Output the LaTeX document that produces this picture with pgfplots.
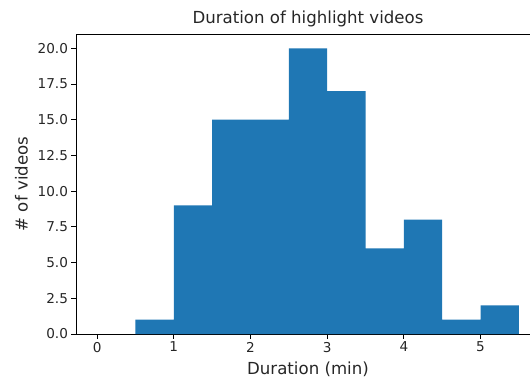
\documentclass[border=0pt]{standalone}
\usepackage{pgfplots}
\pgfplotsset{compat=1.18}
\usepackage{fontspec}
\setmainfont{DejaVu Sans}
\definecolor{mplblue}{HTML}{1F77B4}
\definecolor{axgray}{HTML}{262626}
\begin{document}
\begin{tikzpicture}
\begin{axis}[
  at={(0,0)}, anchor=south west,
  scale only axis, width=464pt, height=300pt,
  xmin=-0.275, xmax=5.775, ymin=0, ymax=21,
  xtick={0,1,2,3,4,5},
  ytick={0,2.5,5,7.5,10,12.5,15,17.5,20},
  yticklabel style={/pgf/number format/.cd, fixed, fixed zerofill, precision=1},
  /pgf/number format/assume math mode=true,
  tick align=outside, xtick pos=bottom, ytick pos=left,
  major tick length=4.5pt,
  tick style={black, line width=0.9pt},
  axis line style={black, line width=0.9pt},
  ticklabel style={font=\fontsize{13.6}{15}\selectfont, text=axgray},
  title={Duration of highlight videos},
  title style={font=\fontsize{16.6}{18}\selectfont, text=axgray, yshift=-2pt},
  xlabel={Duration (min)},
  ylabel={\# of videos},
  xlabel style={font=\fontsize{16.6}{18}\selectfont, text=axgray, yshift=-3pt},
  ylabel style={font=\fontsize{16.6}{18}\selectfont, text=axgray, yshift=3pt},
]
\addplot[ybar interval, fill=mplblue, draw=none] coordinates {
(0.5,1) (1.0,9) (1.5,15) (2.0,15) (2.5,20) (3.0,17) (3.5,6) (4.0,8) (4.5,1) (5.0,2) (5.5,2)
};
\end{axis}
\pgfresetboundingbox
\useasboundingbox (-76pt,-47pt) rectangle (454pt,334pt);
\end{tikzpicture}
\end{document}
